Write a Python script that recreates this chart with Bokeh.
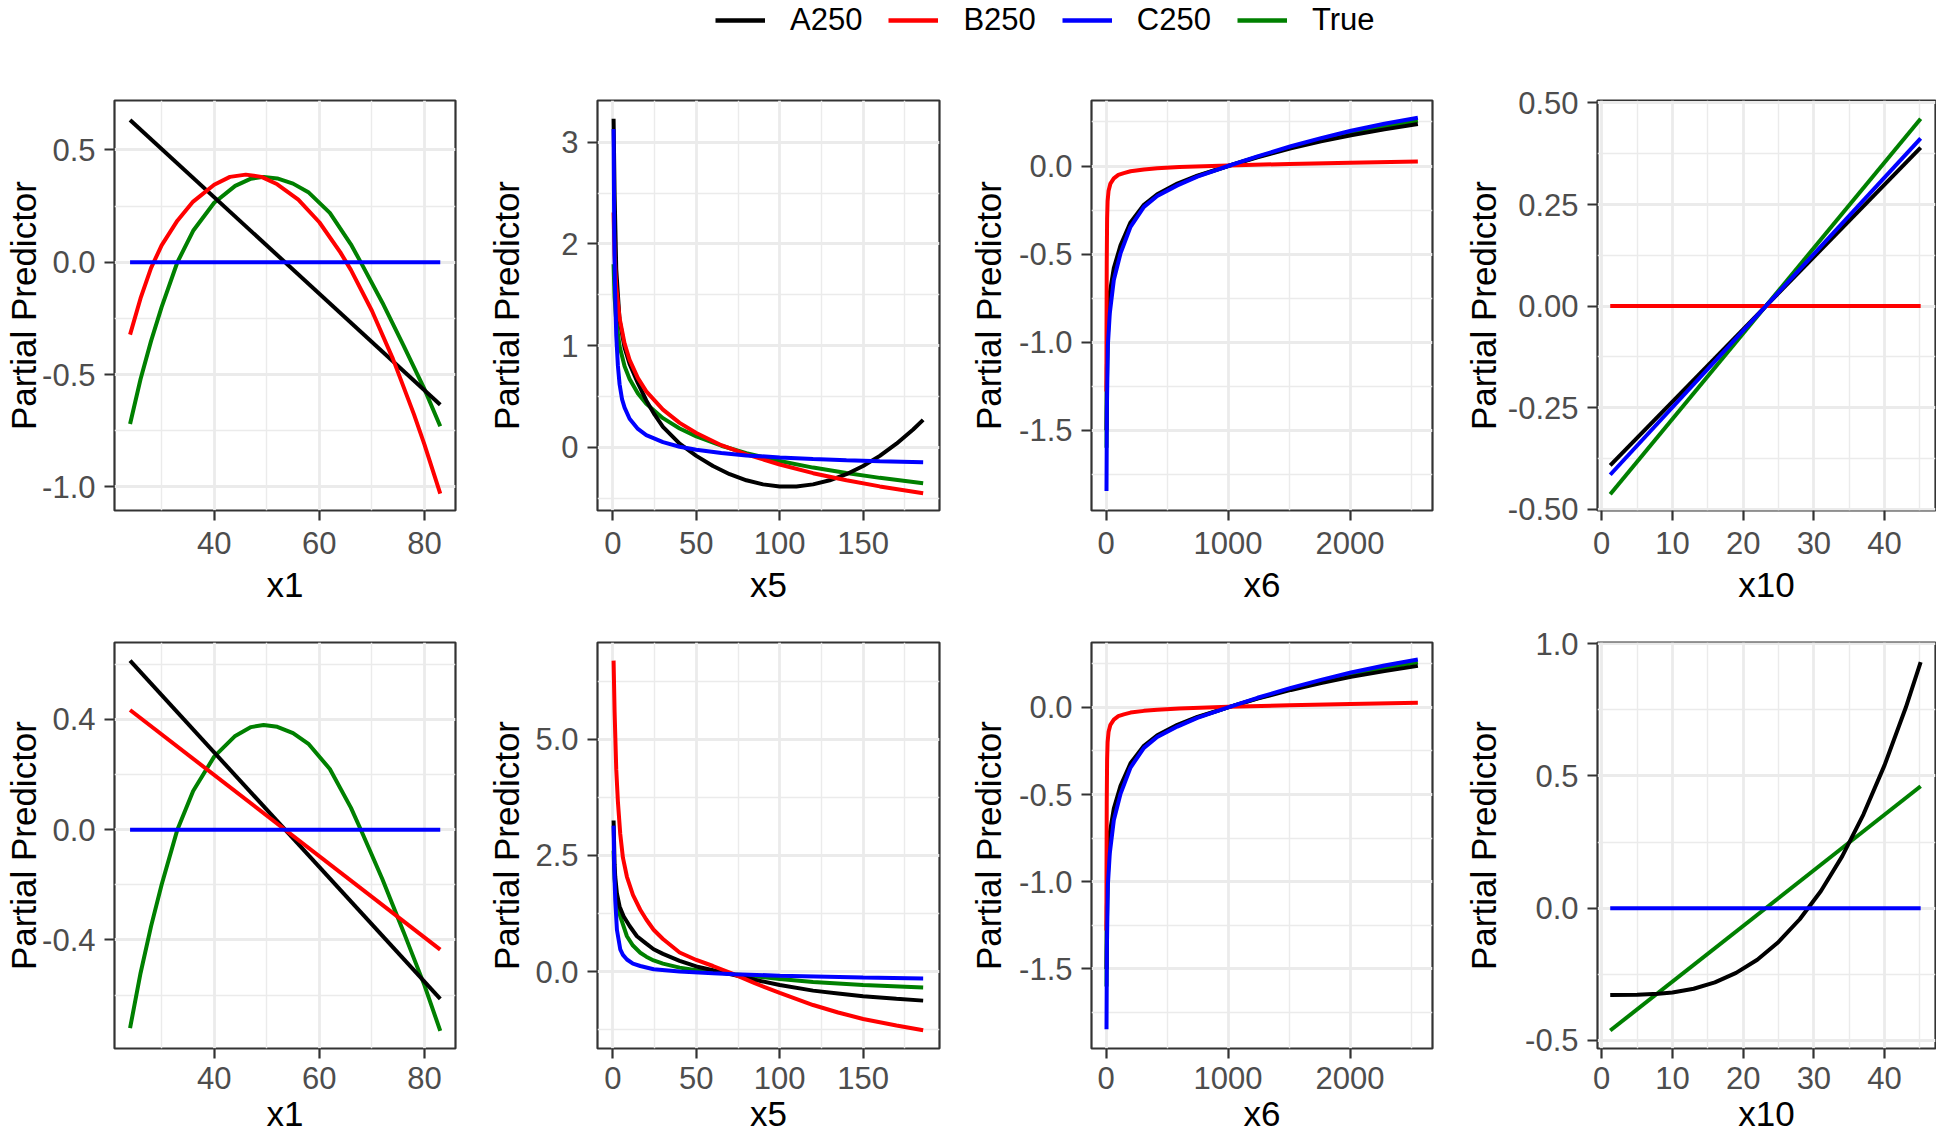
from bokeh.plotting import figure
from bokeh.layouts import row, column
from bokeh.models import Range1d, FixedTicker, PrintfTickFormatter, Legend, LegendItem
from bokeh.embed import file_html
from bokeh.resources import INLINE

# ---------------- data ----------------
series_names = ["A250", "B250", "C250", "True"]
series_colors = ["#000000", "#FF0000", "#0000FF", "#008000"]
y_title = "Partial Predictor"

# x1, top row
x1_top_A_x = [24, 83]
x1_top_A_y = [0.633, -0.634]
x1_top_B_x = [24, 26, 28, 30, 33, 36, 40, 43, 46, 49, 52, 56, 60, 64, 66, 70, 74, 78, 80, 83]
x1_top_B_y = [-0.322, -0.16, -0.025, 0.075, 0.185, 0.27, 0.345, 0.38, 0.39, 0.38, 0.347, 0.279, 0.178,
              0.044, -0.034, -0.216, -0.43, -0.677, -0.812, -1.03]
x1_top_C_x = [24, 83]
x1_top_C_y = [0.0, 0.0]
x1_true_x = [24, 26, 28, 30, 33, 36, 40, 44, 47, 49.4, 52, 55, 58, 62, 66, 68, 72, 76, 80, 83]
x1_true_y = [-0.72, -0.52, -0.35, -0.2, 0.0, 0.14, 0.265, 0.34, 0.372, 0.38, 0.373, 0.35, 0.31, 0.22,
             0.08, -0.005, -0.18, -0.37, -0.565, -0.73]
# x1, bottom row
x1_bot_A_x = [24, 83]
x1_bot_A_y = [0.613, -0.614]
x1_bot_B_x = [24, 83]
x1_bot_B_y = [0.434, -0.435]
x1_bot_C_x = [24, 83]
x1_bot_C_y = [0.0, 0.0]

# x5, top row
x5_top_A_x = [0.4, 1, 2, 4, 7, 10, 15, 20, 25, 30, 40, 50, 60, 70, 80, 90, 100, 110, 120, 130, 140,
              150, 160, 170, 180, 186]
x5_top_A_y = [3.23, 2.5, 1.75, 1.25, 0.98, 0.82, 0.63, 0.46, 0.32, 0.2, 0.035, -0.085, -0.185, -0.265,
              -0.325, -0.365, -0.385, -0.385, -0.365, -0.325, -0.265, -0.185, -0.085, 0.035, 0.175, 0.269]
x5_top_B_x = [0.4, 1, 2, 4, 7, 10, 15, 20, 30, 40, 50, 65, 80, 100, 120, 140, 160, 186]
x5_top_B_y = [2.31, 1.89, 1.58, 1.27, 1.02, 0.86, 0.68, 0.55, 0.37, 0.24, 0.14, 0.02, -0.07, -0.17,
              -0.255, -0.325, -0.385, -0.452]
x5_top_C_x = [0.4, 0.8, 1.2, 2, 3, 4, 5.5, 7, 10, 15, 20, 30, 40, 50, 65, 80, 100, 120, 140, 160, 186]
x5_top_C_y = [3.13, 2.1, 1.6, 1.1, 0.8, 0.62, 0.47, 0.39, 0.28, 0.18, 0.12, 0.05, 0.005, -0.025, -0.057,
              -0.08, -0.1, -0.116, -0.128, -0.138, -0.148]
x5_top_T_x = [0.4, 1, 2, 4, 7, 10, 15, 20, 30, 40, 50, 65, 80, 100, 120, 140, 160, 186]
x5_top_T_y = [1.8, 1.48, 1.237, 0.993, 0.797, 0.672, 0.529, 0.428, 0.286, 0.185, 0.107, 0.015, -0.058,
              -0.136, -0.2, -0.254, -0.301, -0.354]
# x5, bottom row
x5_bot_A_x = [0.4, 1, 1.4, 2.4, 4, 6.4, 10, 14.4, 20, 24.4, 30, 40, 50, 60, 72.8, 85, 100, 120, 135,
              150, 170, 186]
x5_bot_A_y = [3.25, 2.3, 2.04, 1.68, 1.4, 1.19, 0.98, 0.76, 0.6, 0.48, 0.38, 0.23, 0.11, 0.03, -0.075,
              -0.175, -0.29, -0.41, -0.47, -0.53, -0.585, -0.625]
x5_bot_B_x = [0.4, 1, 2, 3, 4.4, 6, 8.4, 12, 16.4, 20, 24.4, 30, 40, 50, 60, 72, 85, 100, 120, 135,
              150, 170, 186]
x5_bot_B_y = [6.69, 5.6, 4.35, 3.65, 2.96, 2.45, 2.04, 1.65, 1.33, 1.12, 0.9, 0.7, 0.41, 0.25, 0.12,
              -0.05, -0.25, -0.46, -0.72, -0.88, -1.02, -1.16, -1.264]
x5_bot_C_x = [0.4, 0.8, 1.4, 2.4, 4.4, 6, 8.4, 12, 16.4, 24.4, 40, 60, 72.8, 100, 150, 186]
x5_bot_C_y = [3.14, 2.2, 1.54, 0.9, 0.48, 0.36, 0.26, 0.17, 0.12, 0.05, 0.0, -0.035, -0.055, -0.09,
              -0.128, -0.149]
x5_bot_T_x = [0.4, 1, 2, 4.4, 8.4, 12, 16.4, 20, 24.4, 30, 40, 50, 60, 72.8, 85, 100, 120, 150, 186]
x5_bot_T_y = [2.6, 2.0, 1.6, 1.19, 0.76, 0.56, 0.405, 0.32, 0.24, 0.17, 0.085, 0.03, -0.01, -0.057,
              -0.1, -0.16, -0.225, -0.29, -0.34]

# x6 (same in both rows)
x6_grid = [3, 6, 14, 30, 63, 118, 200, 310, 419, 584, 748, 1000, 1241, 1515, 1762, 2008, 2282, 2556]
x6_A_y = [-1.5, -1.15, -0.9, -0.72, -0.58, -0.45, -0.32, -0.22, -0.16, -0.1, -0.055, 0.0, 0.05, 0.1,
          0.14, 0.175, 0.208, 0.238]
x6_C_y = [-1.845, -1.4, -1.02, -0.836, -0.647, -0.496, -0.345, -0.232, -0.17, -0.11, -0.06, 0.0, 0.055,
          0.112, 0.158, 0.2, 0.24, 0.274]
x6_T_y = [-1.6, -1.25, -0.96, -0.78, -0.61, -0.47, -0.33, -0.225, -0.165, -0.105, -0.057, 0.0, 0.052,
          0.106, 0.15, 0.19, 0.225, 0.258]
x6_B_x = [2, 3, 5, 8, 12, 20, 35, 63, 100, 145, 200, 310, 419, 600, 1000, 1500, 2000, 2556]
x6_B_y = [-1.28, -0.95, -0.55, -0.3, -0.2, -0.14, -0.1, -0.07, -0.05, -0.04, -0.03, -0.02, -0.013,
          -0.006, 0.003, 0.012, 0.019, 0.026]

# x10, top row
x10_top_A_x = [1.2, 45.1]
x10_top_A_y = [-0.392, 0.39]
x10_top_B_x = [1.2, 45.1]
x10_top_B_y = [0.0, 0.0]
x10_top_C_x = [1.2, 45.1]
x10_top_C_y = [-0.415, 0.413]
x10_true_x = [1.2, 45.1]
x10_true_y = [-0.463, 0.461]
# x10, bottom row
x10_bot_A_x = [1.2, 5, 8, 10, 13, 16, 19, 22, 25, 28, 31, 34, 37, 40, 43, 45.1]
x10_bot_A_y = [-0.329, -0.328, -0.324, -0.319, -0.305, -0.281, -0.245, -0.195, -0.128, -0.042, 0.065,
               0.196, 0.354, 0.541, 0.759, 0.931]
x10_bot_C_x = [1.2, 45.1]
x10_bot_C_y = [0.0, 0.0]

# axis ticks
x1_ticks, x1_minor = [40, 60, 80], [30, 50, 70]
x5_ticks, x5_minor = [0, 50, 100, 150], [25, 75, 125, 175]
x6_ticks, x6_minor = [0, 1000, 2000], [500, 1500, 2500]
x10_ticks, x10_minor = [0, 10, 20, 30, 40], [5, 15, 25, 35, 45]
y_x1_top_ticks, y_x1_top_minor = [-1.0, -0.5, 0.0, 0.5], [-0.75, -0.25, 0.25]
y_x1_bot_ticks, y_x1_bot_minor = [-0.4, 0.0, 0.4], [-0.6, -0.2, 0.2, 0.6]
y_x5_top_ticks, y_x5_top_minor = [0, 1, 2, 3], [-0.5, 0.5, 1.5, 2.5]
y_x5_bot_ticks, y_x5_bot_minor = [0.0, 2.5, 5.0], [-1.25, 1.25, 3.75, 6.25]
y_x6_ticks, y_x6_minor = [-1.5, -1.0, -0.5, 0.0], [-1.75, -1.25, -0.75, -0.25, 0.25]
y_x10_top_ticks, y_x10_top_minor = [-0.5, -0.25, 0.0, 0.25, 0.5], [-0.375, -0.125, 0.125, 0.375]
y_x10_bot_ticks, y_x10_bot_minor = [-0.5, 0.0, 0.5, 1.0], [-0.25, 0.25, 0.75]

FONT = "Liberation Sans"
GRID = "#EBEBEB"
DARK = "#333333"


def panel(xr, yr, xt, xm, yt, ym, xfmt, yfmt, xlabel, lines, fw, left, right, fh, top, bottom,
          ystand, xls, xstand):
    p = figure(frame_width=fw, frame_height=fh, x_range=Range1d(*xr), y_range=Range1d(*yr),
               toolbar_location=None, output_backend="svg",
               min_border_left=left, min_border_right=right, min_border_top=top,
               min_border_bottom=bottom, x_axis_label=xlabel, y_axis_label=y_title)
    p.background_fill_color = "white"
    p.border_fill_color = "white"
    p.outline_line_color = DARK
    p.outline_line_width = 2.2
    p.xaxis.ticker = FixedTicker(ticks=xt, minor_ticks=xm)
    p.yaxis.ticker = FixedTicker(ticks=yt, minor_ticks=ym)
    p.xaxis.formatter = PrintfTickFormatter(format=xfmt)
    p.yaxis.formatter = PrintfTickFormatter(format=yfmt)
    for ax in (p.xaxis[0], p.yaxis[0]):
        ax.axis_line_color = None
        ax.major_tick_in = 0
        ax.major_tick_out = 10
        ax.major_tick_line_color = DARK
        ax.major_tick_line_width = 2.2
        ax.minor_tick_line_color = None
        ax.major_label_text_font = FONT
        ax.major_label_text_font_size = "31px"
        ax.major_label_text_color = "#4D4D4D"
        ax.axis_label_text_font = FONT
        ax.axis_label_text_font_size = "35px"
        ax.axis_label_text_font_style = "normal"
        ax.axis_label_text_color = "black"
    p.xaxis.major_label_standoff = xls
    p.yaxis.major_label_standoff = 9
    p.yaxis.axis_label_standoff = ystand
    p.xaxis.axis_label_standoff = xstand
    for g in (p.xgrid[0], p.ygrid[0]):
        g.grid_line_color = GRID
        g.grid_line_width = 2.8
        g.minor_grid_line_color = GRID
        g.minor_grid_line_width = 1.4
    for xs, ys, col in lines:
        p.line(xs, ys, line_color=col, line_width=4)
    return p


BLK, RED, BLU, GRN = series_colors

TOP = dict(fh=410, top=58, bottom=110, xls=11, xstand=8)
BOT = dict(fh=406, top=22, bottom=86, xls=8, xstand=2)

X1R, X5R, X6R, X10R = (21.04, 85.9), (-9.24, 195.8), (-120, 2676), (-0.6, 47.2)

f1 = panel(X1R, (-1.105, 0.72), x1_ticks, x1_minor, y_x1_top_ticks, y_x1_top_minor,
           "%.0f", "%.1f", "x1",
           [(x1_true_x, x1_true_y, GRN), (x1_top_A_x, x1_top_A_y, BLK),
            (x1_top_B_x, x1_top_B_y, RED), (x1_top_C_x, x1_top_C_y, BLU)],
           341, 114, 21, ystand=-4, **TOP)
f2 = panel(X5R, (-0.622, 3.41), x5_ticks, x5_minor, y_x5_top_ticks, y_x5_top_minor,
           "%.0f", "%.0f", "x5",
           [(x5_top_T_x, x5_top_T_y, GRN), (x5_top_A_x, x5_top_A_y, BLK),
            (x5_top_B_x, x5_top_B_y, RED), (x5_top_C_x, x5_top_C_y, BLU)],
           342, 121, 25, ystand=32, **TOP)
f3 = panel(X6R, (-1.956, 0.372), x6_ticks, x6_minor, y_x6_ticks, y_x6_minor,
           "%.0f", "%.1f", "x6",
           [(x6_grid, x6_T_y, GRN), (x6_grid, x6_A_y, BLK),
            (x6_B_x, x6_B_y, RED), (x6_grid, x6_C_y, BLU)],
           341, 127, 26, ystand=8, **TOP)
f4 = panel(X10R, (-0.503, 0.506), x10_ticks, x10_minor, y_x10_top_ticks, y_x10_top_minor,
           "%.0f", "%.2f", "x10",
           [(x10_true_x, x10_true_y, GRN), (x10_top_A_x, x10_top_A_y, BLK),
            (x10_top_B_x, x10_top_B_y, RED), (x10_top_C_x, x10_top_C_y, BLU)],
           338, 139, 1, ystand=2, **TOP)

f5 = panel(X1R, (-0.794, 0.679), x1_ticks, x1_minor, y_x1_bot_ticks, y_x1_bot_minor,
           "%.0f", "%.1f", "x1",
           [(x1_true_x, x1_true_y, GRN), (x1_bot_A_x, x1_bot_A_y, BLK),
            (x1_bot_B_x, x1_bot_B_y, RED), (x1_bot_C_x, x1_bot_C_y, BLU)],
           341, 114, 21, ystand=-4, **BOT)
f6 = panel(X5R, (-1.655, 7.08), x5_ticks, x5_minor, y_x5_bot_ticks, y_x5_bot_minor,
           "%.0f", "%.1f", "x5",
           [(x5_bot_T_x, x5_bot_T_y, GRN), (x5_bot_A_x, x5_bot_A_y, BLK),
            (x5_bot_B_x, x5_bot_B_y, RED), (x5_bot_C_x, x5_bot_C_y, BLU)],
           342, 121, 25, ystand=6, **BOT)
f7 = panel(X6R, (-1.956, 0.372), x6_ticks, x6_minor, y_x6_ticks, y_x6_minor,
           "%.0f", "%.1f", "x6",
           [(x6_grid, x6_T_y, GRN), (x6_grid, x6_A_y, BLK),
            (x6_B_x, x6_B_y, RED), (x6_grid, x6_C_y, BLU)],
           341, 127, 26, ystand=8, **BOT)
f8 = panel(X10R, (-0.531, 1.005), x10_ticks, x10_minor, y_x10_bot_ticks, y_x10_bot_minor,
           "%.0f", "%.1f", "x10",
           [(x10_true_x, x10_true_y, GRN), (x10_bot_A_x, x10_bot_A_y, BLK),
            (x10_bot_C_x, x10_bot_C_y, BLU)],
           338, 139, 1, ystand=19, **BOT)

# legend strip (its line renderers hold data that lies outside the strip's ranges)
lg = figure(width=1936, height=42, x_range=Range1d(0, 1), y_range=Range1d(0, 1),
            toolbar_location=None, output_backend="svg", min_border=0)
lg.axis.visible = False
lg.grid.visible = False
lg.outline_line_color = None
legend_data = [(x1_top_A_x, x1_top_A_y), (x1_bot_B_x, x1_bot_B_y), (x1_top_C_x, x1_top_C_y),
               (x1_true_x, x1_true_y)]
items = []
for name, col, (xs, ys) in zip(series_names, series_colors, legend_data):
    r = lg.line(xs, ys, line_color=col, line_width=4.5)
    items.append(LegendItem(label=name, renderers=[r]))
legend = Legend(items=items, orientation="horizontal", location=(715, 4), spacing=26,
                label_standoff=25, glyph_width=50, glyph_height=20, padding=0, margin=0,
                border_line_color=None, background_fill_alpha=0,
                label_text_font=FONT, label_text_font_size="31px", label_text_color="black")
lg.add_layout(legend)

layout = column(lg, row(f1, f2, f3, f4, spacing=0), row(f5, f6, f7, f8, spacing=0), spacing=0)

open("out.html", "w").write(file_html(layout, INLINE))
